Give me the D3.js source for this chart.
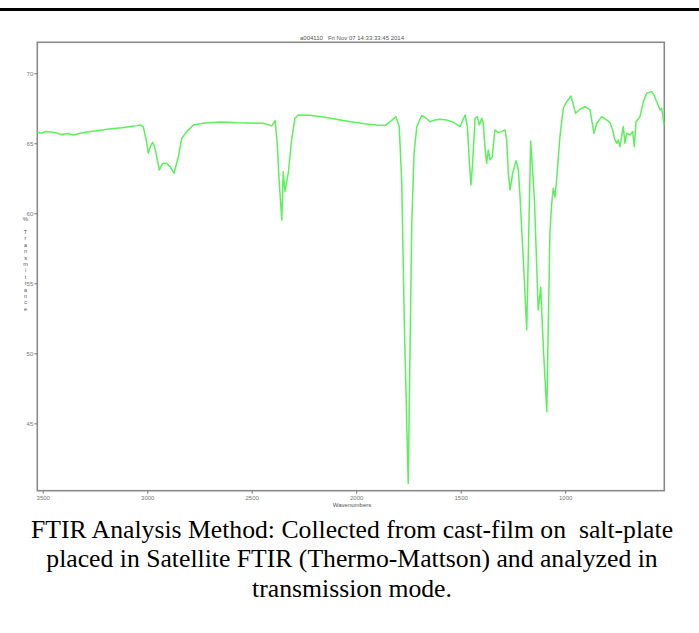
<!DOCTYPE html>
<html><head><meta charset="utf-8">
<script src="https://cdn.jsdelivr.net/npm/d3@7/dist/d3.min.js"></script>
<style>
html,body{margin:0;padding:0;background:#fff;}
svg{display:block;}
</style></head>
<body>
<svg id="chart" width="699" height="633"></svg>
<script>
// ---- data ----
const wavenumbers = [3526,3505,3485,3465,3440,3410,3380,3354,3320,3290,3242,3200,3160,3120,3082,3050,3034,3019,3002,2995,2984,2974,2966,2958,2942,2926,2907,2891,2872,2851,2835,2811,2779,2732,2690,2652,2610,2572,2520,2460,2444,2404,2388,2378,2368,2356,2349,2341,2325,2309,2293,2277,2221,2150,2077,2010,1950,1900,1862,1838,1810,1794,1782,1769,1751,1734,1723,1710,1687,1671,1647,1623,1599,1567,1535,1503,1479,1468,1459,1451,1443,1431,1420,1411,1399,1392,1384,1376,1368,1360,1349,1336,1320,1304,1288,1280,1272,1264,1251,1235,1224,1216,1199,1184,1165,1147,1129,1117,1104,1088,1073,1065,1057,1049,1041,1025,1009,993,972,961,950,929,905,881,873,862,849,825,801,785,773,762,753,746,738,730,722,714,706,690,677,669,661,642,626,610,586,575,562,546,538,527];
const transmittance = [65.79,65.72,65.84,65.81,65.75,65.62,65.70,65.59,65.72,65.80,65.90,65.98,66.05,66.10,66.19,66.26,66.31,66.19,65.02,64.29,64.80,65.07,64.80,64.31,63.09,63.57,63.57,63.33,62.86,64.04,65.36,65.83,66.31,66.43,66.48,66.52,66.50,66.47,66.45,66.43,66.43,66.24,66.61,65.00,62.16,59.52,62.97,61.54,62.88,65.24,66.79,67.02,67.00,66.85,66.66,66.50,66.38,66.30,66.26,66.54,66.90,66.19,62.16,51.66,40.71,59.31,64.31,66.19,66.97,66.86,66.54,66.66,66.71,66.66,66.50,66.19,67.02,66.19,63.81,62.02,63.57,66.79,66.90,66.31,66.79,66.43,64.76,63.57,64.52,63.81,64.04,65.95,65.76,65.83,65.95,65.24,62.86,61.66,62.86,63.76,63.09,61.19,56.31,51.66,65.16,60.95,53.09,54.71,50.24,45.83,58.59,60.59,61.79,61.16,62.38,65.47,67.50,67.97,68.38,67.74,67.14,67.43,67.61,67.38,66.66,65.71,66.43,66.90,66.66,66.47,65.95,65.24,65.00,65.24,64.76,65.47,66.19,65.00,65.71,65.59,65.83,64.76,66.54,66.90,67.97,68.57,68.69,68.45,67.97,67.38,67.50,66.31];
const xTicks = [3500,3000,2500,2000,1500,1000];
const yTicks = [45,50,55,60,65,70];
const titleText = "a004110   Fri Nov 07 14:33:33:45 2014";
const xLabel = "Wavenumbers";
const yLabelSymbol = "%";
const yLabel = "Transmittance";
const captionLines = [
  "FTIR Analysis Method: Collected from cast-film on  salt-plate",
  "placed in Satellite FTIR (Thermo-Mattson) and analyzed in",
  "transmission mode."
];

// ---- drawing ----
const svg = d3.select("#chart");
const M = {left:37.3, right:664.3, top:42.3, bottom:490.7};
const x = d3.scaleLinear().domain([3526,525.6]).range([M.left, M.right]);
const y = d3.scaleLinear().domain([40.19,72.21]).range([M.bottom, M.top]);

// top rule
svg.append("rect").attr("x",0).attr("y",8).attr("width",699).attr("height",3).attr("fill","#000");

// frame
svg.append("rect").attr("x",M.left).attr("y",M.top)
  .attr("width",M.right-M.left).attr("height",M.bottom-M.top)
  .attr("fill","none").attr("stroke","#8a8a8a").attr("stroke-width",1.6);

// axes
const fontAx = "Liberation Sans, Arial, sans-serif";
const xAxis = d3.axisBottom(x).tickValues(xTicks).tickSize(3).tickPadding(2).tickFormat(d3.format("d"));
const gx = svg.append("g").attr("transform",`translate(0,${M.bottom})`).call(xAxis);
gx.select(".domain").remove();
gx.selectAll("line").attr("stroke","#777");
gx.selectAll("text").attr("fill","#777").attr("font-size",6).attr("font-family",fontAx);

const yAxis = d3.axisLeft(y).tickValues(yTicks).tickSize(3).tickPadding(1).tickFormat(d3.format("d"));
const gy = svg.append("g").attr("transform",`translate(${M.left},0)`).call(yAxis);
gy.select(".domain").remove();
gy.selectAll("line").attr("stroke","#777");
gy.selectAll("text").attr("fill","#777").attr("font-size",6).attr("font-family",fontAx);

// spectrum line
const pts = wavenumbers.map((w,i)=>[w,transmittance[i]]);
svg.append("path").datum(pts)
  .attr("fill","none").attr("stroke","#5cf05c").attr("stroke-width",1.5)
  .attr("stroke-linejoin","round")
  .attr("d", d3.line().x(d=>x(d[0])).y(d=>y(d[1])));

// title
svg.append("text").attr("x",352).attr("y",40).attr("text-anchor","middle")
  .attr("font-family",fontAx).attr("font-size",6).attr("fill","#555")
  .style("white-space","pre").text(titleText);

// x label
svg.append("text").attr("x",352).attr("y",507).attr("text-anchor","middle")
  .attr("font-family",fontAx).attr("font-size",6).attr("fill","#555").text(xLabel);

// y label (stacked letters)
svg.append("text").attr("x",25.5).attr("y",221).attr("text-anchor","middle")
  .attr("font-family",fontAx).attr("font-size",6).attr("fill","#555").text(yLabelSymbol);
svg.append("g").selectAll("text").data(yLabel.split("")).join("text")
  .attr("x",25.5).attr("y",(d,i)=>234+i*6.4).attr("text-anchor","middle")
  .attr("font-family",fontAx).attr("font-size",5.5).attr("fill","#555").text(d=>d);

// caption
svg.append("g").selectAll("text").data(captionLines).join("text")
  .attr("x",352).attr("y",(d,i)=>537.5+i*29.5).attr("text-anchor","middle")
  .attr("font-family","Liberation Serif, Times New Roman, serif").attr("font-size",25.7)
  .attr("fill","#000").style("white-space","pre").text(d=>d);
</script>
</body></html>
